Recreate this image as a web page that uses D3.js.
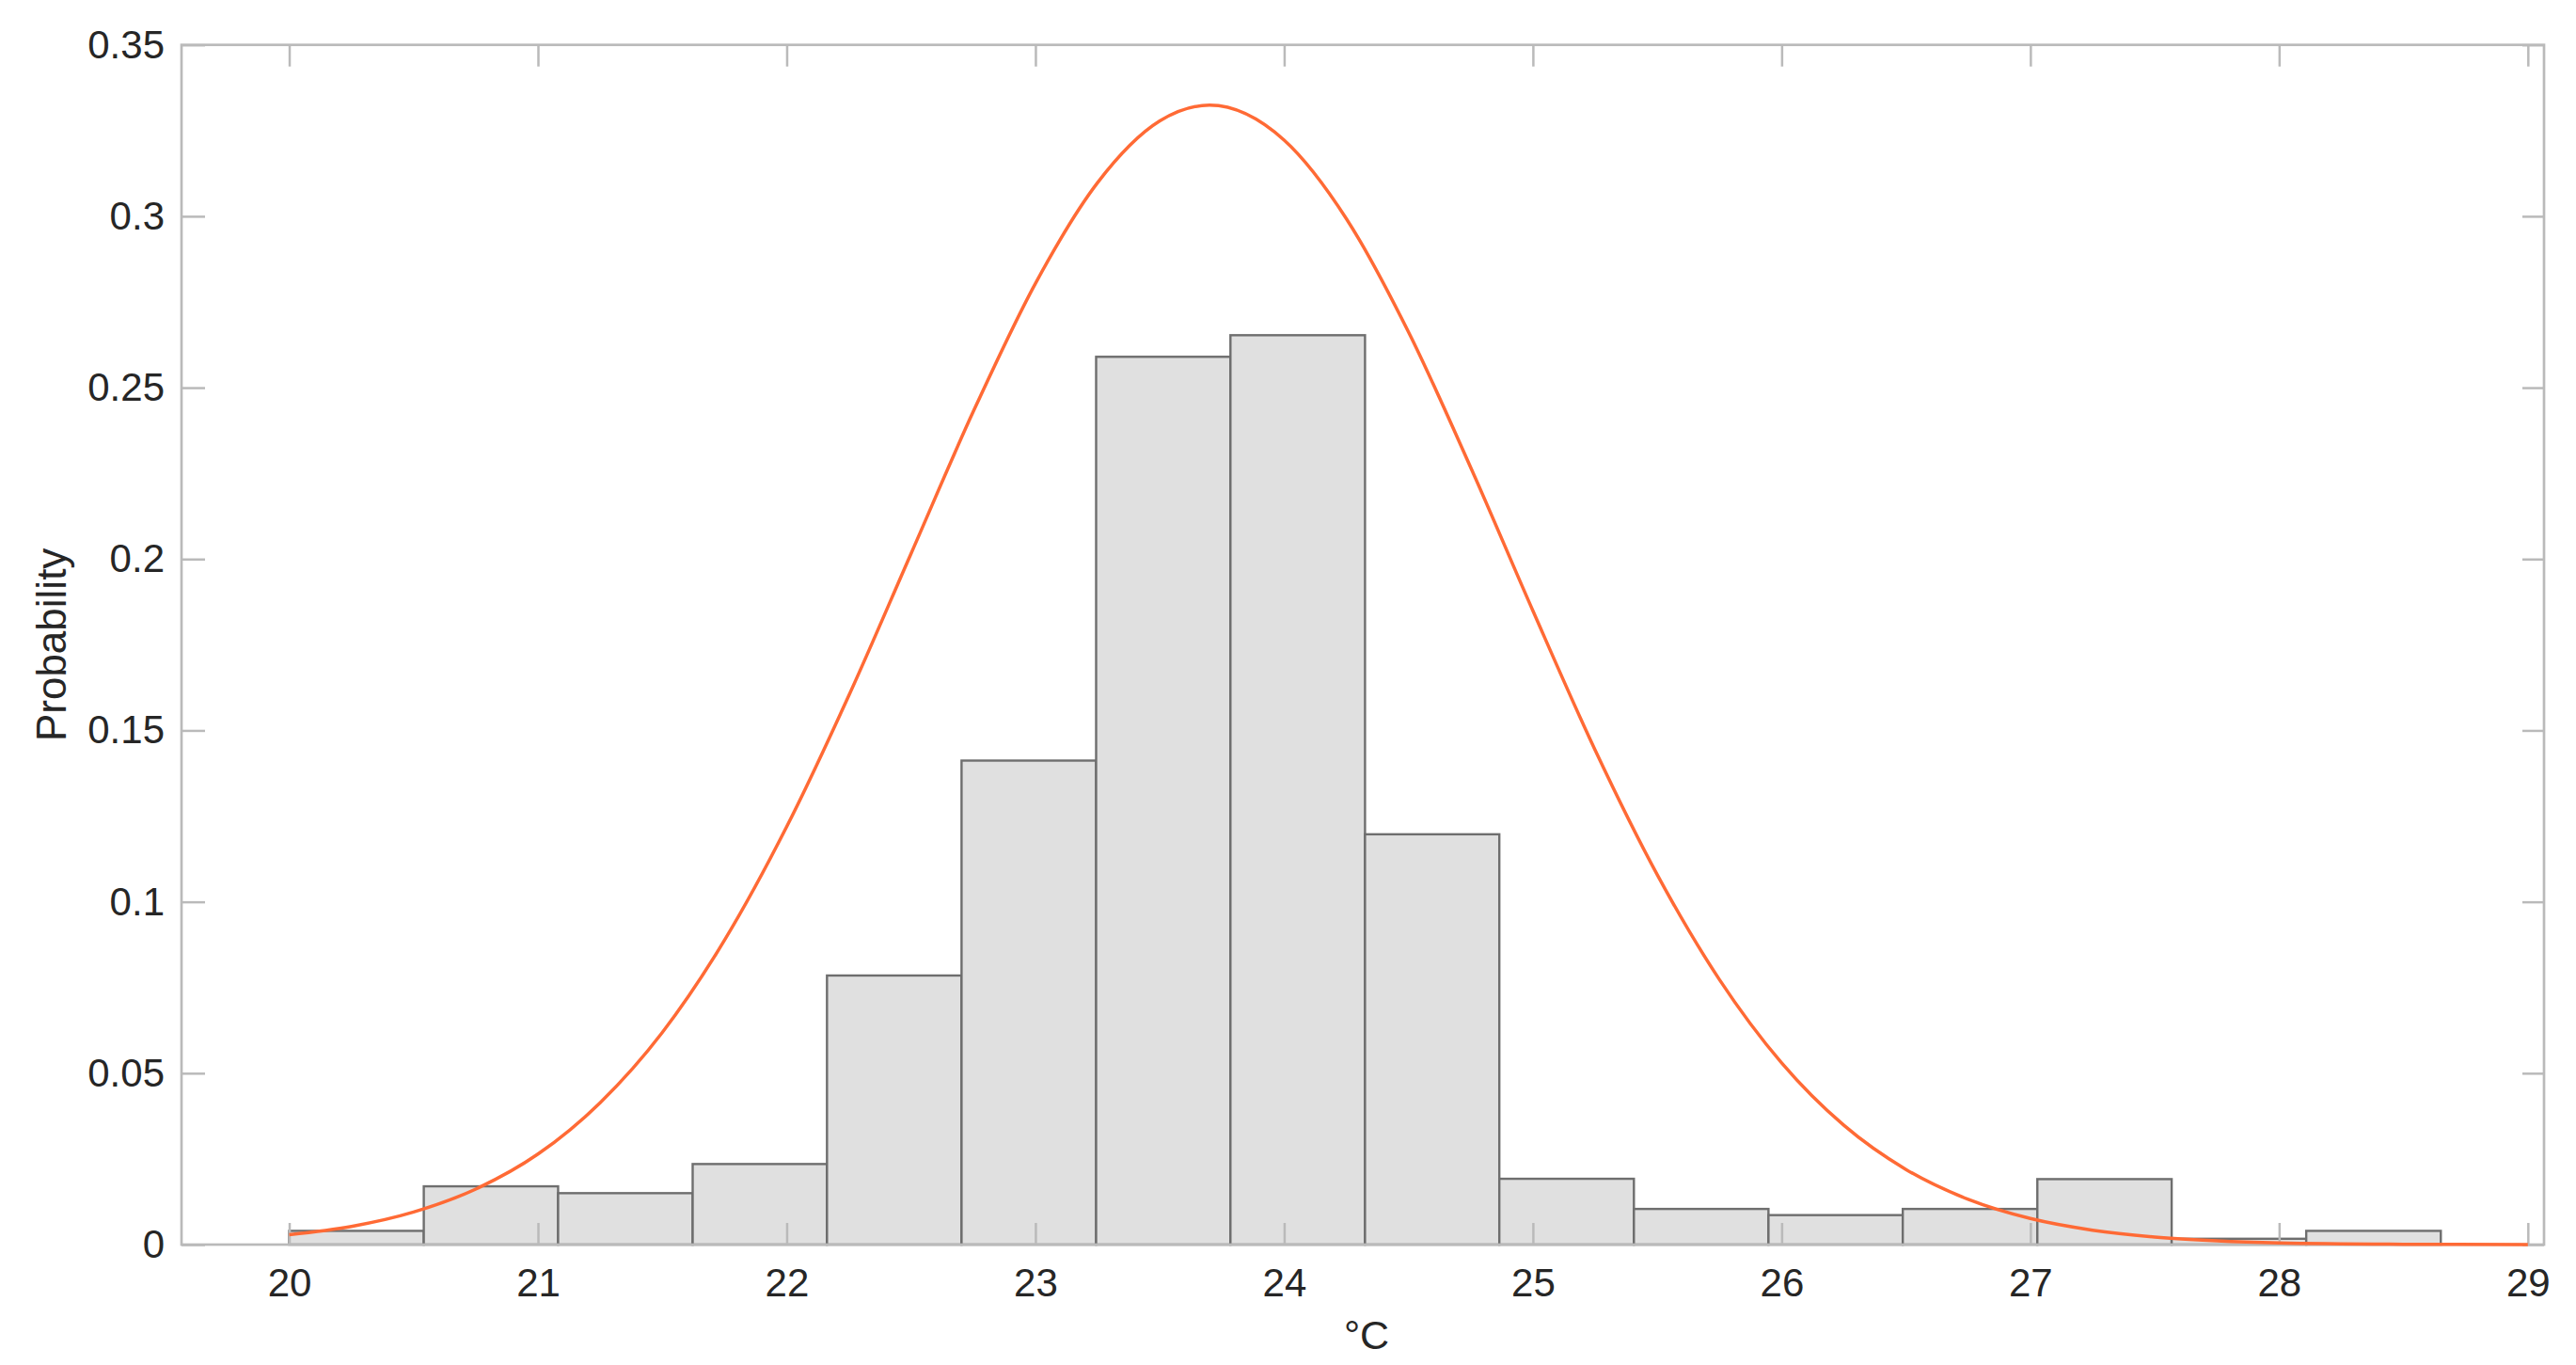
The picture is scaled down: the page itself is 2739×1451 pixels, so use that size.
<!DOCTYPE html>
<html>
<head>
<meta charset="utf-8">
<script src="https://cdn.jsdelivr.net/npm/d3@7"></script>
<style>
  html, body { margin: 0; padding: 0; background: #ffffff; }
  svg { display: block; }
  text { font-family: "Liberation Sans", Arial, Helvetica, sans-serif; }
</style>
</head>
<body>
<svg id="chart" width="2739" height="1451"></svg>
<script>
// ---- data ----
const binEdges = [20.000, 20.541, 21.081, 21.622, 22.162, 22.703, 23.244, 23.784,
                  24.325, 24.865, 25.406, 25.947, 26.487, 27.028, 27.568, 28.109, 28.650];
const binProbability = [0.0040, 0.0170, 0.0150, 0.0235, 0.0785, 0.1412, 0.2590, 0.2653,
                        0.1197, 0.0192, 0.0104, 0.0086, 0.0104, 0.0191, 0.0017, 0.0040];

// fitted curve
const curveX = [20.0, 20.25, 20.5, 20.75, 21.0, 21.25, 21.5, 21.75, 22.0, 22.25, 22.5, 22.75,
                23.0, 23.25, 23.5, 23.7, 24.0, 24.25, 24.5, 24.75, 25.0, 25.25, 25.5, 25.75,
                26.0, 26.25, 26.5, 26.75, 27.0, 27.25, 27.5, 27.75, 28.0, 28.5, 29.0];
const curveY = [0.0029, 0.0053, 0.0095, 0.0162, 0.0264, 0.0414, 0.0619, 0.0888, 0.1219, 0.1602, 0.2016, 0.2430,
                0.2804, 0.3098, 0.3278, 0.3324, 0.3222, 0.2993, 0.2662, 0.2267, 0.1849, 0.1443, 0.1079, 0.0773,
                0.0530, 0.0348, 0.0219, 0.0132, 0.0076, 0.0042, 0.0022, 0.0011, 0.0005, 0.0001, 0.0000];

const xTicks = [20, 21, 22, 23, 24, 25, 26, 27, 28, 29];
const yTicks = [0, 0.05, 0.1, 0.15, 0.2, 0.25, 0.3, 0.35];
const yTickLabels = ["0", "0.05", "0.1", "0.15", "0.2", "0.25", "0.3", "0.35"];
const xDomain = [19.567, 29.065];
const yDomain = [0, 0.35];
const xLabel = "°C";
const yLabel = "Probability";

// ---- layout ----
const W = 2739, H = 1451;
const plot = { left: 193, right: 2705, top: 47.7, bottom: 1323 };
const axisColor = "#bababa";
const textColor = "#262626";
const fontSize = 42;

const svg = d3.select("#chart");
const x = d3.scaleLinear().domain(xDomain).range([plot.left, plot.right]);
const y = d3.scaleLinear().domain(yDomain).range([plot.bottom, plot.top]);

// bars
const bins = binProbability.map((p, i) => ({ x0: binEdges[i], x1: binEdges[i + 1], p }));
svg.append("g").selectAll("rect").data(bins).join("rect")
  .attr("x", d => x(d.x0))
  .attr("y", d => y(d.p))
  .attr("width", d => x(d.x1) - x(d.x0))
  .attr("height", d => y(0) - y(d.p))
  .attr("fill", "#e0e0e0")
  .attr("stroke", "#6e6e6e")
  .attr("stroke-width", 2.4);

// axes (ticks inward on all four sides)
function styleAxis(g) {
  g.select(".domain").remove();
  g.selectAll(".tick line").attr("stroke", axisColor).attr("stroke-width", 2.5);
  g.selectAll(".tick text").attr("fill", textColor).attr("font-size", fontSize)
    .attr("font-family", "'Liberation Sans', Arial, Helvetica, sans-serif");
}
svg.append("g").attr("transform", `translate(0,${plot.bottom})`)
  .call(d3.axisBottom(x).tickValues(xTicks).tickFormat(d3.format("d")).tickSize(-23).tickSizeOuter(0).tickPadding(25))
  .call(styleAxis);
svg.append("g").attr("transform", `translate(0,${plot.top})`)
  .call(d3.axisTop(x).tickValues(xTicks).tickFormat("").tickSize(-23).tickSizeOuter(0))
  .call(styleAxis);
svg.append("g").attr("transform", `translate(${plot.left},0)`)
  .call(d3.axisLeft(y).tickValues(yTicks).tickFormat((d, i) => yTickLabels[i]).tickSize(-25).tickSizeOuter(0).tickPadding(18))
  .call(styleAxis);
svg.append("g").attr("transform", `translate(${plot.right},0)`)
  .call(d3.axisRight(y).tickValues(yTicks).tickFormat("").tickSize(-23).tickSizeOuter(0))
  .call(styleAxis);

// box
svg.append("rect")
  .attr("x", plot.left).attr("y", plot.top)
  .attr("width", plot.right - plot.left).attr("height", plot.bottom - plot.top)
  .attr("fill", "none").attr("stroke", axisColor).attr("stroke-width", 2.7);

// fitted curve
const pts = curveX.map((v, i) => [v, curveY[i]]);
svg.append("path")
  .datum(pts)
  .attr("d", d3.line().x(d => x(d[0])).y(d => y(d[1])).curve(d3.curveMonotoneX))
  .attr("fill", "none")
  .attr("stroke", "#ff6a35")
  .attr("stroke-width", 3.5);

// axis labels
svg.append("text")
  .attr("x", (plot.left + plot.right) / 2 + 4)
  .attr("y", 1434)
  .attr("text-anchor", "middle")
  .attr("font-size", 43)
  .attr("fill", textColor)
  .text(xLabel);
svg.append("text")
  .attr("transform", `translate(70,${(plot.top + plot.bottom) / 2}) rotate(-90)`)
  .attr("text-anchor", "middle")
  .attr("font-size", 44)
  .attr("fill", textColor)
  .text(yLabel);
</script>
</body>
</html>
